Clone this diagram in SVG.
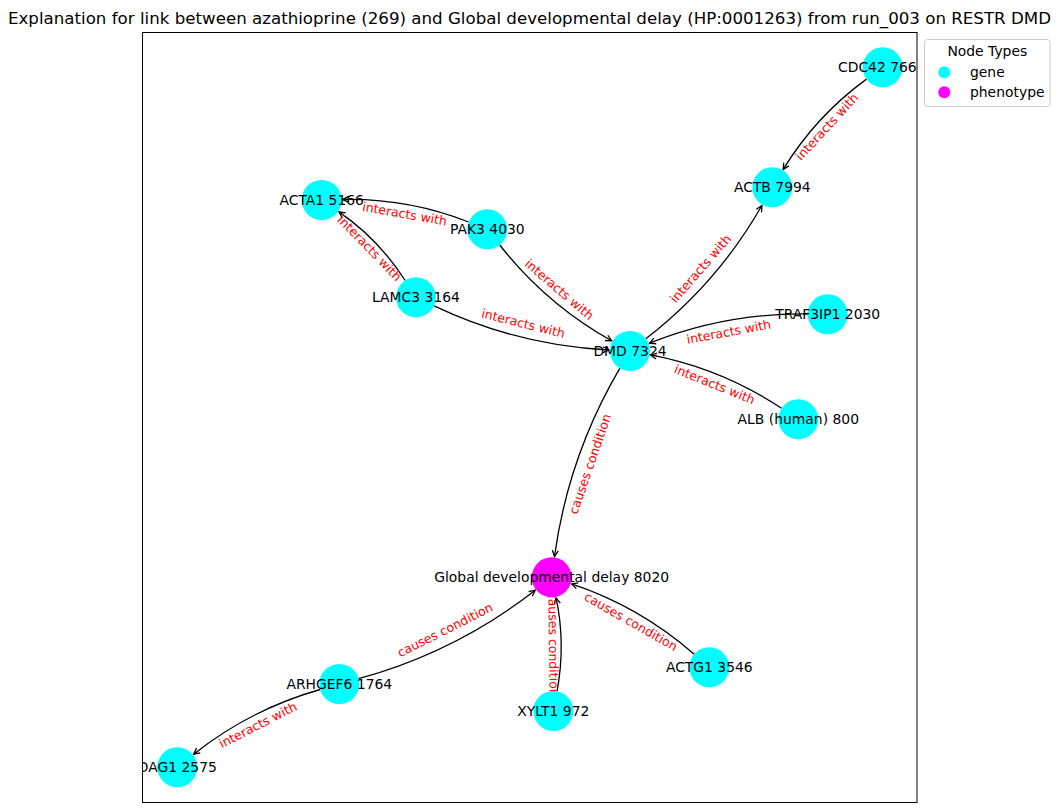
<svg xmlns="http://www.w3.org/2000/svg" width="1059" height="812" viewBox="0 0 1059 812">
  <style>
    .title { font-family: "DejaVu Sans", "Liberation Sans", sans-serif; font-size: 16.67px; fill: #000; text-anchor: middle; }
    .edge { fill: none; stroke: #000; stroke-width: 1.3; marker-end: url(#arrow); }
    .elabel { font-family: "DejaVu Sans", "Liberation Sans", sans-serif; font-size: 12.5px; fill: #ff0000; text-anchor: middle; }
    .gene { fill: #00ffff; }
    .phenotype { fill: #ff00ff; }
    .nlabel { font-family: "DejaVu Sans", "Liberation Sans", sans-serif; font-size: 13.9px; fill: #000; text-anchor: middle; }
    .legend-text { font-family: "DejaVu Sans", "Liberation Sans", sans-serif; font-size: 13.9px; fill: #000; }
  </style>
  <defs>
    <marker id="arrow" markerUnits="userSpaceOnUse" viewBox="-8 -5 10 10" refX="0" refY="0" markerWidth="10" markerHeight="10" orient="auto" overflow="visible">
      <path d="M-6,-3 L0,0 L-6,3" fill="none" stroke="#000" stroke-width="1.3"/>
    </marker>
    <clipPath id="axes-clip">
      <rect x="142.5" y="32.5" width="774.5" height="770"/>
    </clipPath>
  </defs>

  <rect x="0" y="0" width="1059" height="812" fill="#ffffff"/>
  <text class="title" x="529.5" y="24">Explanation for link between azathioprine (269) and Global developmental delay (HP:0001263) from run_003 on RESTR DMD</text>
  <rect x="142.5" y="32.5" width="774.5" height="770" fill="none" stroke="#000" stroke-width="1"/>

  <!-- curved directed edges (quadratic arcs, trimmed at node borders) -->
  <g id="connectors" clip-path="url(#axes-clip)">
    <path class="edge" d="M866.5,79.1 Q815.5,116.3 783.2,169.4"/>
    <path class="edge" d="M468.7,222.0 Q407.4,198.1 342.7,199.5"/>
    <path class="edge" d="M405.2,280.5 Q378.6,239.2 339.0,211.9"/>
    <path class="edge" d="M499.7,245.0 Q546.5,304.4 611.7,340.8"/>
    <path class="edge" d="M434.1,305.9 Q517.6,345.6 609.0,350.0"/>
    <path class="edge" d="M645.8,338.8 Q717.5,283.4 761.9,205.5"/>
    <path class="edge" d="M807.7,314.0 Q725.2,312.9 649.5,343.2"/>
    <path class="edge" d="M781.6,408.3 Q721.0,368.3 650.6,354.9"/>
    <path class="edge" d="M619.9,368.2 Q568.2,456.3 554.5,556.5"/>
    <path class="edge" d="M358.6,678.7 Q456.2,651.9 535.2,590.2"/>
    <path class="edge" d="M557.0,691.4 Q565.9,644.0 556.1,597.8"/>
    <path class="edge" d="M694.2,654.2 Q639.5,606.5 571.6,583.9"/>
    <path class="edge" d="M320.1,689.5 Q250.0,709.5 193.7,754.2"/>
  </g>

  <!-- edge labels sit at the chord midpoint, rotated along the chord -->
  <g id="edge-labels" clip-path="url(#axes-clip)">
    <text class="elabel" transform="translate(827.5,127.3) rotate(-47.4)" y="3.5">interacts with</text>
    <text class="elabel" transform="translate(404.5,214.7) rotate(10.0)" y="3.5">interacts with</text>
    <text class="elabel" transform="translate(368.9,248.7) rotate(45.9)" y="3.5">interacts with</text>
    <text class="elabel" transform="translate(558.7,290.2) rotate(40.5)" y="3.5">interacts with</text>
    <text class="elabel" transform="translate(523.0,324.2) rotate(14.1)" y="3.5">interacts with</text>
    <text class="elabel" transform="translate(701.2,269.2) rotate(-49.0)" y="3.5">interacts with</text>
    <text class="elabel" transform="translate(728.9,332.7) rotate(-10.5)" y="3.5">interacts with</text>
    <text class="elabel" transform="translate(714.2,385.2) rotate(22.1)" y="3.5">interacts with</text>
    <text class="elabel" transform="translate(590.9,464.2) rotate(-70.9)" y="3.5">causes condition</text>
    <text class="elabel" transform="translate(445.5,630.7) rotate(-26.7)" y="3.5">causes condition</text>
    <text class="elabel" transform="translate(552.5,644.2) rotate(89.3)" y="3.5">causes condition</text>
    <text class="elabel" transform="translate(630.5,622.3) rotate(29.7)" y="3.5">causes condition</text>
    <text class="elabel" transform="translate(258.3,725.7) rotate(-27.2)" y="3.5">interacts with</text>
  </g>

  <g id="nodes" clip-path="url(#axes-clip)">
    <g id="node-CDC42">
      <circle class="gene" cx="882.7" cy="67.3" r="20"/>
      <text class="nlabel" x="838" y="71.8" style="text-anchor:start">CDC42 766</text>
    </g>
    <g id="node-ACTB">
      <circle class="gene" cx="772.3" cy="187.3" r="20"/>
      <text class="nlabel" x="772.3" y="191.8">ACTB 7994</text>
    </g>
    <g id="node-ACTA1">
      <circle class="gene" cx="321.7" cy="200" r="20"/>
      <text class="nlabel" x="321.7" y="204.5">ACTA1 5166</text>
    </g>
    <g id="node-PAK3">
      <circle class="gene" cx="487.3" cy="229.3" r="20"/>
      <text class="nlabel" x="487.3" y="233.8">PAK3 4030</text>
    </g>
    <g id="node-LAMC3">
      <circle class="gene" cx="416" cy="297.3" r="20"/>
      <text class="nlabel" x="416" y="301.8">LAMC3 3164</text>
    </g>
    <g id="node-TRAF3IP1">
      <circle class="gene" cx="827.7" cy="314.3" r="20"/>
      <text class="nlabel" x="827.7" y="318.8">TRAF3IP1 2030</text>
    </g>
    <g id="node-DMD">
      <circle class="gene" cx="630" cy="351" r="20"/>
      <text class="nlabel" x="630" y="355.5">DMD 7324</text>
    </g>
    <g id="node-ALB">
      <circle class="gene" cx="798.3" cy="419.3" r="20"/>
      <text class="nlabel" x="798.3" y="423.8">ALB (human) 800</text>
    </g>
    <g id="node-GDD">
      <circle class="phenotype" cx="551.7" cy="577.3" r="20"/>
      <text class="nlabel" x="551.7" y="581.8">Global developmental delay 8020</text>
    </g>
    <g id="node-ACTG1">
      <circle class="gene" cx="709.3" cy="667.3" r="20"/>
      <text class="nlabel" x="709.3" y="671.8">ACTG1 3546</text>
    </g>
    <g id="node-XYLT1">
      <circle class="gene" cx="553.3" cy="711" r="20"/>
      <text class="nlabel" x="553.3" y="715.5">XYLT1 972</text>
    </g>
    <g id="node-ARHGEF6">
      <circle class="gene" cx="339.3" cy="684" r="20"/>
      <text class="nlabel" x="339.3" y="688.5">ARHGEF6 1764</text>
    </g>
    <g id="node-DAG1">
      <circle class="gene" cx="177.3" cy="767.3" r="20"/>
      <text class="nlabel" x="177.3" y="771.8">DAG1 2575</text>
    </g>
  </g>

  <g id="legend">
    <rect x="924.5" y="39.5" width="125.5" height="67" rx="3" fill="#ffffff" fill-opacity="0.8" stroke="#cccccc" stroke-width="1"/>
    <text class="legend-text" x="987.3" y="55.5" style="text-anchor:middle">Node Types</text>
    <circle class="gene" cx="944.3" cy="72.3" r="6"/>
    <text class="legend-text" x="970" y="77">gene</text>
    <circle class="phenotype" cx="944.3" cy="92.3" r="6"/>
    <text class="legend-text" x="970" y="97">phenotype</text>
  </g>
</svg>
